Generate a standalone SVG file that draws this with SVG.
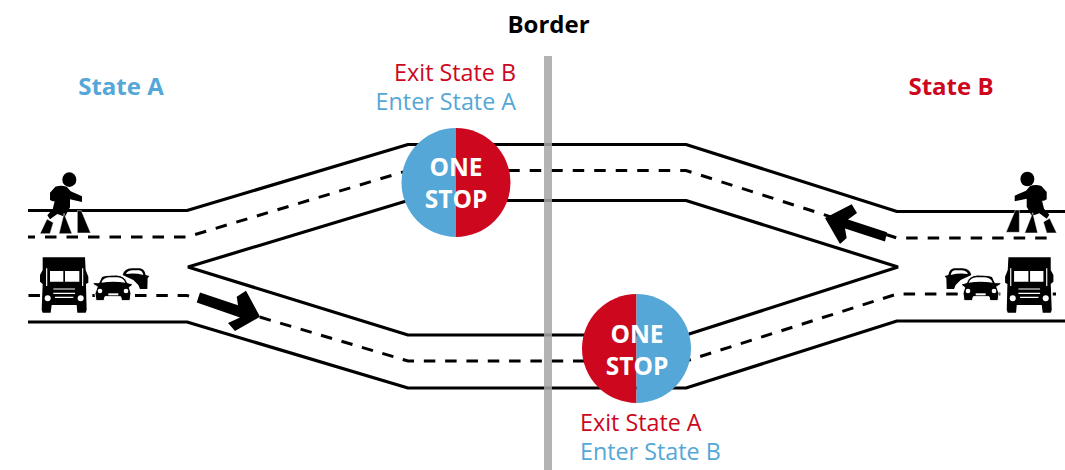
<svg xmlns="http://www.w3.org/2000/svg" width="1065" height="470" viewBox="0 0 1065 470">
<style>
text{font-family:"Open Sans","Noto Sans","Liberation Sans",sans-serif;text-anchor:middle}
.road{fill:none;stroke:#000;stroke-width:3.2;stroke-linejoin:bevel}
.dash{fill:none;stroke:#000;stroke-width:3;stroke-dasharray:11.500 10;stroke-dashoffset:4.500}
.dash2{stroke-dasharray:11.500 9.810;stroke-dashoffset:20.860}
.lbl{font-size:23.300px}
.state{font-size:24px;font-weight:700}
.one{font-size:24.500px;font-weight:700;fill:#fff}
.blue{fill:#54a7d6}.red{fill:#cc071e}
</style>
<defs>
<g id="person">
<ellipse cx="148" cy="59" rx="21" ry="22"/>
<path d="M106 80Q123 74 140 80L152 94L186 109V126L150 118V142L135 170L112 162L90 178L82 166L98 148L104 124L98 124L90 120V98Z"/>
<path d="M60 221L81 177L100 188L90 221ZM117 221L132 160L156 221ZM172 219V152L184 152L212 219Z" stroke="#fff" stroke-width="1.500"/>
</g>
<g id="truck">
<path d="M68 292H195L197 330L205 350V368L198 372L200 450L197 458H172L170 435H95L92 458H68L65 450L68 372L60 365V345L68 330Z"/>
<path d="M90 333H130V365H90ZM135 333H178V365H135Z" fill="#fff"/>
<path d="M80 325V378M188 325V378M100 387H165M100 400H165M105 412H160" stroke="#fff" stroke-width="3.500" fill="none"/>
<circle cx="83" cy="415" r="9" fill="#fff"/><circle cx="182" cy="415" r="9" fill="#fff"/>
</g>
<g id="cars">
<path d="M308 345Q313 325 335 325H360Q374 327 377 345L388 348L383 355L382 387H360L355 375L340 360Z"/>
<path d="M318 342Q323 331 338 331H358Q367 332 370 345Q345 338 318 342Z" fill="#fff"/>
<path d="M245 350Q255 345 290 345Q315 347 322 368L338 372L335 378L328 382L333 400L330 422H305L302 410H255L252 422H228L225 400L232 380L222 375L218 368L237 368Z" stroke="#fff" stroke-width="3"/>
<path d="M244 368Q250 353 267 352H293Q310 353 316 368Q280 363 244 368Z" fill="#fff"/>
<circle cx="240" cy="393" r="7" fill="#fff"/><circle cx="318" cy="393" r="7" fill="#fff"/>
<rect x="265" y="400" width="30" height="6" fill="#fff"/>
</g>
</defs>
<rect width="1065" height="470" fill="#fff"/>
<g id="connectors">
<path class="road" d="M28 210.500H187L408 144.500H686L897 211.500H1065"/>
<path class="dash" d="M28 237H187L408 170.500H686L897 238H1056"/>
<path class="road" d="M188 267L408 200.500H686L898 267L686 335H408Z"/>
<path class="dash dash2" d="M28 295.500H187L408 361H686L897 294H1056"/>
<path class="road" d="M28 322H187L408 388H686L897 321H1065"/>
<path d="M200 292.500L238 305.200L236.700 296.700L246 290.700L260 316.700L235 331L228 323L240 317.500L196.700 302.500Z"/>
<path d="M825 218L851.700 204.300L857 213L848 219.500L887 232.200L885 241.500L845 228.500L846.700 238L840 244Z"/>
</g>
<rect id="border" x="544" y="56" width="8" height="414" fill="#a5a6a8" fill-opacity=".85"/>
<g id="person-a"><use href="#person" transform="translate(20 160) scale(.3333)"/></g>
<g id="person-b"><use href="#person" transform="translate(1076.700 159.300) scale(-.3333 .3333)"/></g>
<g id="truck-a"><use href="#truck" transform="translate(20 160) scale(.3333)"/></g>
<g id="truck-b"><use href="#truck" transform="translate(1073.400 160) scale(-.3333 .3333)"/></g>
<g id="cars-a"><use href="#cars" transform="translate(20 160) scale(.3333)"/></g>
<g id="cars-b"><use href="#cars" transform="translate(1074 160) scale(-.3333 .3333)"/></g>
<g id="stop-top">
<path class="blue" d="M456 128A54.500 54.500 0 0 0 456 237Z"/>
<path class="red" d="M456 128A54.500 54.500 0 0 1 456 237Z"/>
<text class="one" x="456" y="176">ONE</text>
<text class="one" x="456" y="208">STOP</text>
</g>
<g id="stop-bottom">
<path class="red" d="M636.500 294A54.500 54.500 0 0 0 636.500 403Z"/>
<path class="blue" d="M636.500 294A54.500 54.500 0 0 1 636.500 403Z"/>
<text class="one" x="637" y="343">ONE</text>
<text class="one" x="637" y="375">STOP</text>
</g>
<g id="labels">
<text class="state" x="548.500" y="33" fill="#000">Border</text>
<text class="state blue" x="121" y="95">State A</text>
<text class="state red" x="951" y="95">State B</text>
<text class="lbl red" x="516" y="81" style="text-anchor:end">Exit State B</text>
<text class="lbl blue" x="516" y="110" style="text-anchor:end">Enter State A</text>
<text class="lbl red" x="580" y="431" style="text-anchor:start">Exit State A</text>
<text class="lbl blue" x="580" y="460" style="text-anchor:start">Enter State B</text>
</g>
</svg>
